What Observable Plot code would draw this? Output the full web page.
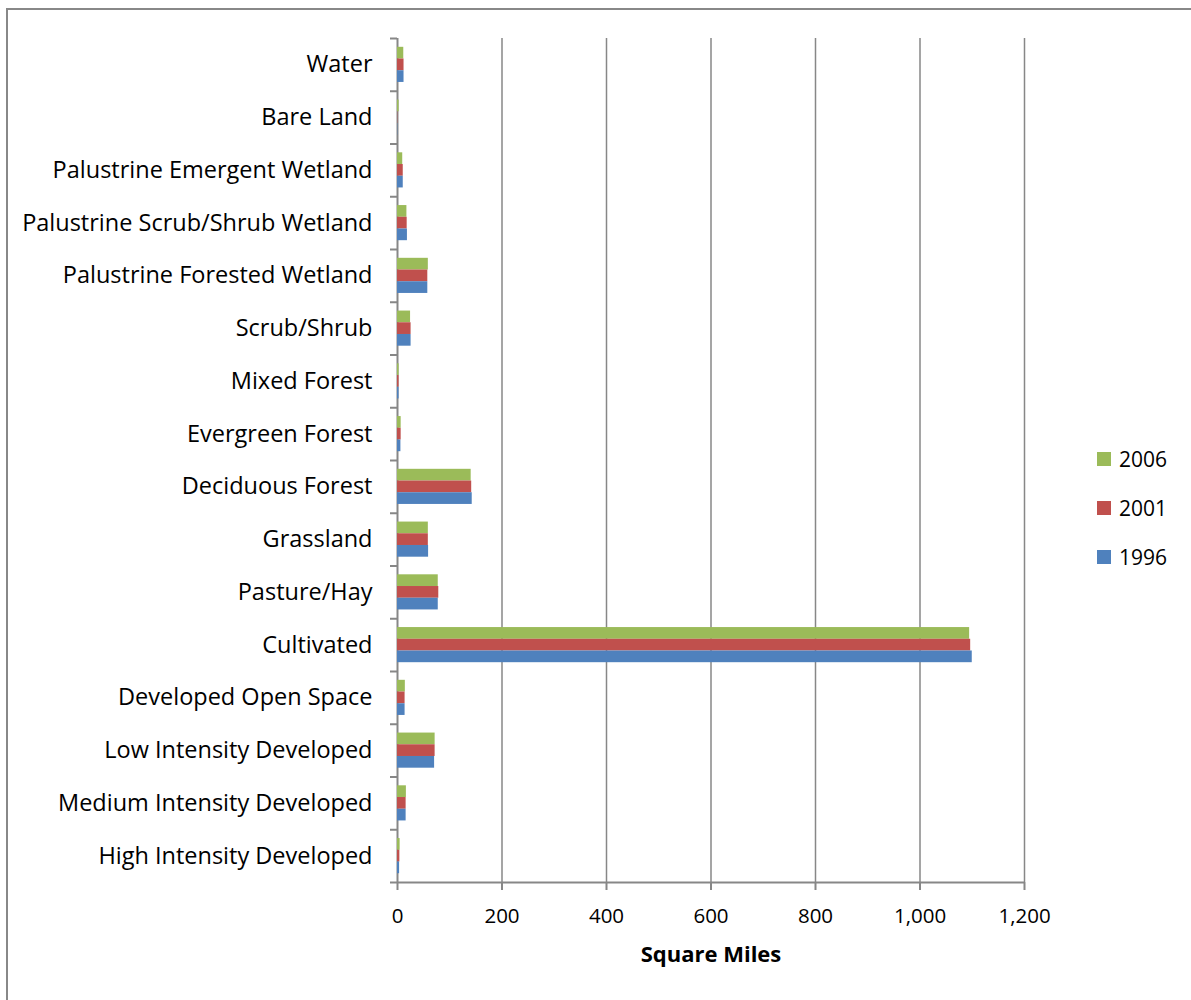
<!DOCTYPE html>
<html>
<head>
<meta charset="utf-8">
<script src="https://cdn.jsdelivr.net/npm/d3@7"></script>
<script src="https://cdn.jsdelivr.net/npm/@observablehq/plot@0.6"></script>
<style>
  html, body { margin: 0; padding: 0; background: #fff; overflow: hidden; }
  #wrap { position: relative; width: 1191px; height: 1000px; overflow: hidden; font-family: "Open Sans", sans-serif; background: #fff; }
  #border { position: absolute; left: 6px; top: 8px; width: 1300px; height: 1100px; border: 2px solid #888; box-sizing: border-box; }
  #chart { position: absolute; left: 0; top: 0; }
  #legend { position: absolute; left: 1097px; top: 446px; font-size: 21px; color: #000; }
  #legend .row { display: flex; align-items: center; height: 25px; margin-bottom: 24px; }
  #legend .sw { width: 14px; height: 14px; margin-right: 8px; }
</style>
</head>
<body>
<div id="wrap">
  <div id="chart"></div>
  <div id="border"></div>
  <div id="legend"></div>
</div>
<script>
// Land cover categories, top to bottom
const categories = [
  "Water",
  "Bare Land",
  "Palustrine Emergent Wetland",
  "Palustrine Scrub/Shrub Wetland",
  "Palustrine Forested Wetland",
  "Scrub/Shrub",
  "Mixed Forest",
  "Evergreen Forest",
  "Deciduous Forest",
  "Grassland",
  "Pasture/Hay",
  "Cultivated",
  "Developed Open Space",
  "Low Intensity Developed",
  "Medium Intensity Developed",
  "High Intensity Developed"
];

// Area in square miles for each year
const values2006 = [12, 3, 10, 18, 59, 25, 3, 7, 141, 59, 78, 1095, 15, 72, 17, 5];
const values2001 = [12.5, 0.5, 11, 18.5, 58, 26, 3, 7, 142, 59, 79, 1097, 14.5, 72, 16.5, 4.5];
const values1996 = [12.5, 0.5, 11, 19, 58, 26, 3, 6.5, 143, 59.5, 78, 1100, 14.5, 71, 16.5, 4];

const years = ["2006", "2001", "1996"];
const yearColors = ["#9BBB59", "#C0504D", "#4F81BD"];
const xTicks = [0, 200, 400, 600, 800, 1000, 1200];

const series = [values2006, values2001, values1996];
const rows = categories.flatMap((category, i) =>
  years.map((year, j) => ({category, year, value: series[j][i]}))
);

const width = 1191, height = 1000;
const marginTop = 38, marginBottom = 118, marginLeft = 397, marginRight = 167;
const step = (height - marginTop - marginBottom) / categories.length;
const barH = step * 0.222;
const inset = (step - barH) / 2;
const gray = "#878787";
const font = "'Open Sans', sans-serif";

const chart = Plot.plot({
  width, height, marginTop, marginBottom, marginLeft, marginRight,
  style: {fontFamily: font, fontSize: "20px", color: "#000", background: "transparent"},
  x: {domain: [0, 1200]},
  y: {domain: categories, padding: 0, round: false},
  marks: [
    // vertical gridlines
    Plot.ruleX(xTicks.slice(1), {stroke: gray, strokeWidth: 1.5}),
    // category axis line
    Plot.ruleX([0], {stroke: gray, strokeWidth: 2}),
    // grouped bars: one mark per year, stacked within each category band
    ...years.map((year, j) => Plot.barX(rows.filter(d => d.year === year), {
      x: "value", y: "category", fill: yearColors[j],
      insetTop: inset, insetBottom: inset, dy: (j - 1) * barH
    })),
    // tick marks between category bands
    Plot.ruleY(categories, {y: d => d, x1: 0, x2: 0, insetLeft: -7, dy: step / 2, stroke: gray, strokeWidth: 2}),
    Plot.ruleY(categories.slice(0, 1), {y: d => d, x1: 0, x2: 0, insetLeft: -7, dy: -step / 2, stroke: gray, strokeWidth: 2}),
    // value axis line
    Plot.ruleY(categories.slice(-1), {y: d => d, x1: 0, x2: 1200, dy: step / 2, stroke: gray, strokeWidth: 2}),
    Plot.axisY({tickSize: 0, tickPadding: 25, label: null, fontSize: 23.5}),
    Plot.axisX({ticks: xTicks, tickFormat: d3.format(","), tickSize: 8, tickPadding: 18,
      stroke: gray, strokeWidth: 2, label: null, fontSize: 20.5}),
    Plot.text(["Square Miles"], {frameAnchor: "bottom", dy: 79, fontWeight: "bold", fontSize: 22})
  ]
});
document.getElementById("chart").append(chart);

// legend, top to bottom in the same order as the bars
const legend = document.getElementById("legend");
years.forEach((year, j) => {
  const row = document.createElement("div");
  row.className = "row";
  const sw = document.createElement("div");
  sw.className = "sw";
  sw.style.background = yearColors[j];
  const label = document.createElement("span");
  label.textContent = year;
  row.append(sw, label);
  legend.append(row);
});
</script>
</body>
</html>
